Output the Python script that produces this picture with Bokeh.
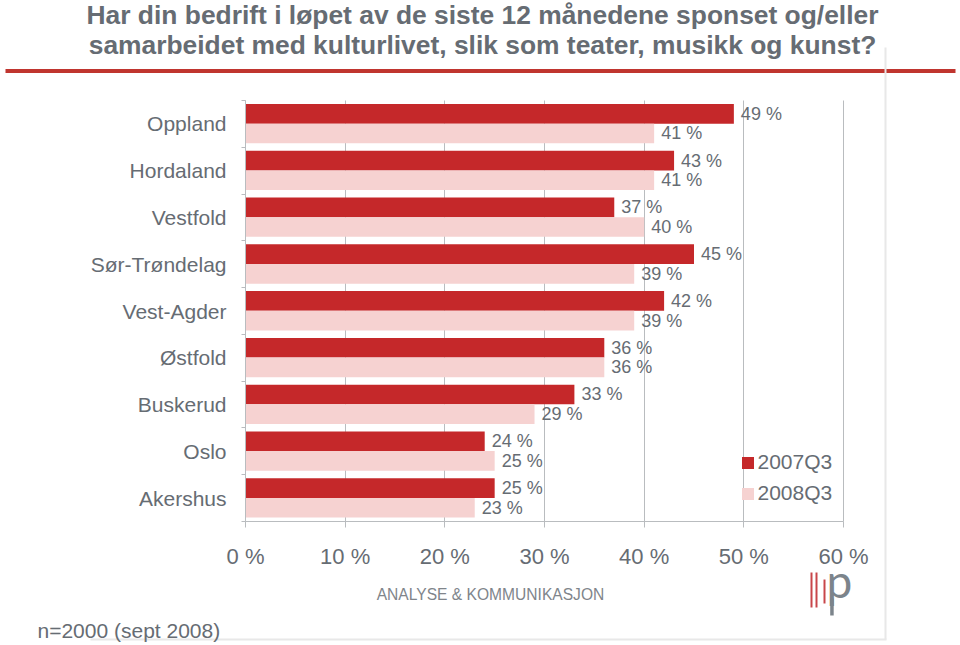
from bokeh.plotting import figure
from bokeh.models import (Range1d, FixedTicker, Label, BoxAnnotation, Legend,
                          LegendItem, ColumnDataSource, PrintfTickFormatter,
                          LinearAxis, Grid)
from bokeh.core.properties import value
from bokeh.embed import file_html
from bokeh.resources import INLINE

# ---------------- data ----------------
categories = ["Oppland", "Hordaland", "Vestfold", "Sør-Trøndelag", "Vest-Agder",
              "Østfold", "Buskerud", "Oslo", "Akershus"]
v2007 = [49, 43, 37, 45, 42, 36, 33, 24, 25]
v2008 = [41, 41, 40, 39, 39, 36, 29, 25, 23]
series_names = ["2007Q3", "2008Q3"]
x_ticks = [0, 10, 20, 30, 40, 50, 60]
title_lines = ["Har din bedrift i løpet av de siste 12 månedene sponset og/eller",
               "samarbeidet med kulturlivet, slik som teater, musikk og kunst?"]
footnote = "n=2000 (sept 2008)"
brand = "ANALYSE & KOMMUNIKASJON"

# ---------------- style ----------------
RED = "#c5282a"
PINK = "#f6d2d1"
GREY = "#666c73"
GRID = "#b9bcbf"
FONT = "Liberation Sans"

W, H = 960, 645
# where the value axes sit on the page (pixels)
AX_L, AX_R, AX_T, AX_B = 245, 843, 100, 521
XMIN, XMAX = 0, 60
N = len(categories)

def X(px):
    return XMIN + (px - AX_L) * (XMAX - XMIN) / (AX_R - AX_L)

def Y(py):
    return -0.5 + (py - AX_T) * N / (AX_B - AX_T)

p = figure(width=W, height=H, output_backend="svg", toolbar_location=None,
           x_range=Range1d(X(0), X(W)), y_range=Range1d(Y(H), Y(0)),
           x_axis_location=None, y_axis_location=None,
           min_border=0, min_border_left=0, min_border_right=0,
           min_border_top=0, min_border_bottom=0)
p.outline_line_color = None
p.background_fill_color = "white"
p.border_fill_color = "white"
p.grid.visible = False

idx = list(range(N))
src = ColumnDataSource(dict(
    y1=[i - 0.215 for i in idx], y2=[i + 0.205 for i in idx],
    v1=v2007, v2=v2008,
    t1=[f"{v} %" for v in v2007], t2=[f"{v} %" for v in v2008],
))

# ---------------- grid ----------------
grid = Grid(dimension=0, ticker=FixedTicker(ticks=x_ticks), grid_line_color=GRID,
            grid_line_width=1)
if "cross_bounds" in Grid.properties():
    grid.cross_bounds = (-0.5, N - 0.5)
    p.add_layout(grid)
else:
    p.segment(x0=x_ticks, y0=[-0.5] * len(x_ticks), x1=x_ticks,
              y1=[N - 0.5] * len(x_ticks), line_color=GRID, line_width=1,
              level="underlay")

r1 = p.hbar(y="y1", left=0, right="v1", height=0.42, source=src,
            fill_color=RED, line_color=None)
r2 = p.hbar(y="y2", left=0, right="v2", height=0.42, source=src,
            fill_color=PINK, line_color=None)

for ycol, tcol, xcol in (("y1", "t1", "v1"), ("y2", "t2", "v2")):
    p.text(x=xcol, y=ycol, text=tcol, source=src, x_offset=7,
           text_baseline="middle", text_align="left",
           text_font=value(FONT), text_font_size="18px", text_color=GREY)

# ---------------- axes ----------------
xa = LinearAxis(fixed_location=N - 0.5, bounds=(XMIN, XMAX))
xa.ticker = FixedTicker(ticks=x_ticks)
xa.formatter = PrintfTickFormatter(format="%d %%")
xa.axis_line_color = GRID
xa.major_tick_line_color = GRID
xa.major_tick_in = 0
xa.major_tick_out = 6
xa.minor_tick_line_color = None
xa.major_label_text_font = FONT
xa.major_label_text_font_size = "22px"
xa.major_label_text_color = GREY
xa.major_label_standoff = 16
p.add_layout(xa, "below")

ya = LinearAxis(fixed_location=XMIN, bounds=(-0.5, N - 0.5))
ya.ticker = FixedTicker(ticks=idx, minor_ticks=[i - 0.5 for i in range(N + 1)])
ya.major_label_overrides = {i: c for i, c in enumerate(categories)}
ya.axis_line_color = GRID
ya.major_tick_line_color = None
ya.major_tick_in = 0
ya.major_tick_out = 0
ya.minor_tick_line_color = GRID
ya.minor_tick_in = 0
ya.minor_tick_out = 4
ya.major_label_text_font = FONT
ya.major_label_text_font_size = "21px"
ya.major_label_text_color = GREY
ya.major_label_standoff = 15
p.add_layout(ya, "left")

# ---------------- legend ----------------
legend = Legend(items=[LegendItem(label=series_names[0], renderers=[r1]),
                       LegendItem(label=series_names[1], renderers=[r2])],
                location=(739.5, 140), glyph_width=15, glyph_height=15,
                label_standoff=3, label_text_font=FONT, label_text_font_size="21px",
                label_text_color=GREY, label_height=24, spacing=7,
                padding=0, margin=0, border_line_color=None,
                background_fill_alpha=0)
p.add_layout(legend)

# ---------------- decorations ----------------
for line, mid in zip(title_lines, (14, 44)):
    p.add_layout(Label(x=X(482), y=Y(mid), text=line, text_align="center",
                       text_baseline="middle", text_font=FONT,
                       text_font_size="26.4px", text_font_style="bold",
                       text_color=GREY))
p.add_layout(BoxAnnotation(left=X(5), right=X(955), top=Y(68.5), bottom=Y(72.5),
                           fill_color="#c0352f", fill_alpha=1, line_color=None))
p.add_layout(BoxAnnotation(left=X(884), right=X(886), top=Y(47), bottom=Y(639),
                           fill_color="#e8e8e8", fill_alpha=1, line_color=None))
p.add_layout(BoxAnnotation(left=X(90), right=X(886), top=Y(638), bottom=Y(640),
                           fill_color="#e8e8e8", fill_alpha=1, line_color=None))
p.add_layout(Label(x=X(37), y=Y(630), text=footnote, text_align="left",
                   text_baseline="middle", text_font=FONT, text_font_size="21px",
                   text_color=GREY))
p.add_layout(Label(x=X(490), y=Y(593.5), text=brand, text_align="center",
                   text_baseline="middle", text_font=FONT, text_font_size="15.6px",
                   text_color="#80858b"))
# logo
for (l, r, t, b) in ((810, 812, 572, 607), (815, 817, 572, 607), (823, 825, 579, 603)):
    p.add_layout(BoxAnnotation(left=X(l), right=X(r), top=Y(t), bottom=Y(b),
                               fill_color="#c8464a", fill_alpha=1, line_color=None))
p.add_layout(Label(x=X(826), y=Y(580), text="p", text_align="left",
                   text_baseline="middle", text_font="Lato", text_font_size="46px",
                   text_color="#7c848b"))
p.add_layout(BoxAnnotation(left=X(829.7), right=X(833.2), top=Y(598), bottom=Y(615),
                           fill_color="#7c848b", fill_alpha=1, line_color=None))

open("out.html", "w").write(file_html(p, INLINE))
